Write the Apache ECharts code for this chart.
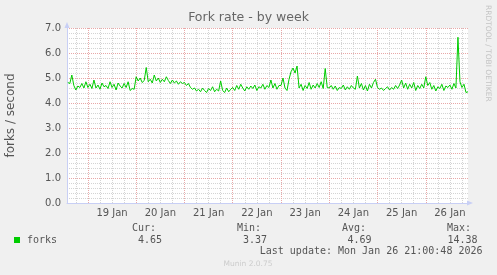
<!DOCTYPE html>
<html><head><meta charset="utf-8">
<script src="https://cdn.jsdelivr.net/npm/echarts@6/dist/echarts.min.js"></script>
<style>html,body{margin:0;padding:0;background:#f0f0f0}#c{width:497px;height:275px}</style>
</head><body><div id="c"></div>
<script>
// Hours relative to 19 Jan 00:00; one sample per hour
const startHour = -10;
const forksJan18 = [4.82, 4.78, 5.12, 4.70, 4.52, 4.68, 4.62, 4.78, 4.60, 4.85];
const forksJan19 = [4.62, 4.75, 4.58, 4.92, 4.60, 4.72, 4.55, 4.80, 4.65, 4.70, 4.58, 4.85, 4.62, 4.75, 4.52, 4.80, 4.68, 4.60, 4.78, 4.62, 4.85, 4.50, 4.58, 4.55];
const forksJan20 = [5.05, 4.88, 5.00, 4.82, 4.90, 5.42, 4.85, 4.95, 4.80, 5.12, 4.88, 5.00, 4.82, 4.95, 4.85, 5.05, 4.90, 4.78, 4.92, 4.80, 4.88, 4.75, 4.85, 4.78];
const forksJan21 = [4.82, 4.70, 4.78, 4.62, 4.55, 4.60, 4.48, 4.55, 4.45, 4.60, 4.50, 4.42, 4.58, 4.50, 4.65, 4.45, 4.55, 4.48, 4.88, 4.50, 4.42, 4.60, 4.45, 4.55];
const forksJan22 = [4.62, 4.50, 4.70, 4.55, 4.75, 4.60, 4.48, 4.65, 4.55, 4.68, 4.58, 4.72, 4.50, 4.65, 4.60, 4.75, 4.55, 4.70, 4.62, 4.92, 4.60, 4.78, 4.55, 4.70];
const forksJan23 = [4.70, 5.00, 4.60, 4.50, 4.95, 5.25, 5.40, 5.20, 5.48, 4.60, 4.75, 4.50, 4.70, 4.58, 4.82, 4.55, 4.72, 4.60, 4.78, 4.62, 4.85, 4.58, 5.38, 4.62];
const forksJan24 = [4.60, 4.70, 4.55, 4.68, 4.50, 4.62, 4.58, 4.72, 4.52, 4.65, 4.55, 4.70, 4.60, 4.55, 5.08, 4.60, 4.78, 4.52, 4.70, 4.48, 4.75, 4.60, 4.82, 4.95];
const forksJan25 = [4.62, 4.55, 4.60, 4.50, 4.58, 4.65, 4.52, 4.62, 4.55, 4.70, 4.58, 4.72, 4.92, 4.60, 4.80, 4.55, 4.75, 4.60, 4.82, 4.50, 4.70, 4.58, 4.75, 4.60];
const forksJan26 = [5.05, 4.70, 4.82, 4.55, 4.70, 4.48, 4.65, 4.58, 4.75, 4.50, 4.68, 4.62, 4.72, 4.55, 4.78, 4.60, 6.63, 4.85, 4.62, 4.75, 4.42, 4.45];

const dayLabels = ['19 Jan', '20 Jan', '21 Jan', '22 Jan', '23 Jan', '24 Jan', '25 Jan', '26 Jan'];
const statNames = ['Cur:', 'Min:', 'Avg:', 'Max:'];
const statValues = ['4.65', '3.37', '4.69', '14.38'];
const seriesName = 'forks';
const titleText = 'Fork rate - by week';
const yAxisName = 'forks / second';
const lastUpdate = 'Last update: Mon Jan 26 21:00:48 2026';
const sideText = 'RRDTOOL / TOBI OETIKER';
const footer = 'Munin 2.0.75';

const forks = [].concat(forksJan18, forksJan19, forksJan20, forksJan21, forksJan22, forksJan23, forksJan24, forksJan25, forksJan26);
const points = forks.map((v, i) => [startHour + i, v]);

const GREEN = '#00cc00';
const AXIS = '#c8cff5';
const TXT = '#555';
const SANS = 'DejaVu Sans';
const X_MIN = -10.4, X_MAX = 189;

// grid line hours: day boundaries (major) and 6-hour steps (minor)
const majorHours = dayLabels.map((_, i) => i * 24);
const minorHours = [];
for (let h = -6; h <= 186; h += 6) if (majorHours.indexOf(h) < 0) minorHours.push(h);

const statX = [132, 237, 342, 447];
const statValRight = [162, 267, 371.5, 477.5];
const graphics = [
  { type: 'text', left: 'center', top: 11, style: { text: titleText, font: '12.5px "DejaVu Sans"', fill: '#666' } },
  { type: 'text', x: 11, y: 115.5, rotation: Math.PI / 2, style: { text: yAxisName, font: '12px "DejaVu Sans"', fill: TXT, align: 'center', verticalAlign: 'middle' } },
  { type: 'text', x: 487.5, y: 5, rotation: -Math.PI / 2, style: { text: sideText, font: '7.5px "DejaVu Sans"', fill: '#c4c4c4', align: 'left', verticalAlign: 'middle' } },
  { type: 'rect', shape: { x: 14, y: 237, width: 6, height: 6 }, style: { fill: GREEN } },
  { type: 'text', x: 27, y: 240, style: { text: seriesName, font: '10px "DejaVu Sans Mono"', fill: TXT, align: 'left', verticalAlign: 'middle' } },
  { type: 'text', x: 482.5, y: 251.5, style: { text: lastUpdate, font: '10px "DejaVu Sans Mono"', fill: TXT, align: 'right', verticalAlign: 'middle' } },
  { type: 'text', x: 248, y: 264.5, style: { text: footer, font: '7.5px "DejaVu Sans"', fill: '#cccccc', align: 'center', verticalAlign: 'middle' } }
];
statNames.forEach((n, i) => {
  graphics.push({ type: 'text', x: statX[i], y: 228.5, style: { text: n, font: '10px "DejaVu Sans Mono"', fill: TXT, align: 'left', verticalAlign: 'middle' } });
  graphics.push({ type: 'text', x: statValRight[i], y: 240, style: { text: statValues[i], font: '10px "DejaVu Sans Mono"', fill: TXT, align: 'right', verticalAlign: 'middle' } });
});

const chart = echarts.init(document.getElementById('c'), null, { renderer: 'canvas' });
chart.setOption({
  animation: false,
  backgroundColor: '#f0f0f0',
  grid: { left: 67, right: 29, top: 28, bottom: 72, show: true, backgroundColor: '#ffffff', borderWidth: 0 },
  xAxis: [{
    type: 'value', min: X_MIN, max: X_MAX, position: 'bottom',
    axisLine: { show: true, onZero: false, lineStyle: { color: AXIS, width: 1 }, symbol: ['none', 'triangle'], symbolSize: [5, 6], symbolOffset: [0, 2] },
    axisTick: { show: false, customValues: majorHours },
    splitLine: { show: true, lineStyle: { color: '#e8a8a8', type: [1, 1], width: 1 } },
    axisLabel: {
      customValues: dayLabels.map((_, i) => i * 24 + 12),
      formatter: v => dayLabels[Math.round((v - 12) / 24)],
      fontSize: 10, fontFamily: SANS, color: TXT, margin: 5
    },
    z: 1
  }, {
    type: 'value', min: X_MIN, max: X_MAX, position: 'top',
    axisLine: { show: false }, axisLabel: { show: false },
    axisTick: { show: false, customValues: minorHours },
    splitLine: { show: true, lineStyle: { color: '#d4d4d4', type: [1, 1], width: 1 } },
    z: 0
  }],
  yAxis: {
    type: 'value', min: 0, max: 7, interval: 1,
    axisLine: { show: true, onZero: false, lineStyle: { color: AXIS, width: 1 }, symbol: ['none', 'triangle'], symbolSize: [5, 6], symbolOffset: [0, 3] },
    axisTick: { show: false },
    axisLabel: { formatter: v => v.toFixed(1), fontSize: 10, fontFamily: SANS, color: TXT, margin: 6 },
    splitLine: { show: true, lineStyle: { color: '#e8a8a8', type: [1, 1], width: 1 } },
    minorTick: { show: false, splitNumber: 5 },
    minorSplitLine: { show: true, lineStyle: { color: '#d4d4d4', type: [1, 1], width: 1 } }
  },
  graphic: graphics,
  series: [{
    name: seriesName, type: 'line', data: points, xAxisIndex: 0, showSymbol: false, z: 3,
    lineStyle: { color: GREEN, width: 1 },
    silent: true
  }]
});
</script></body></html>
